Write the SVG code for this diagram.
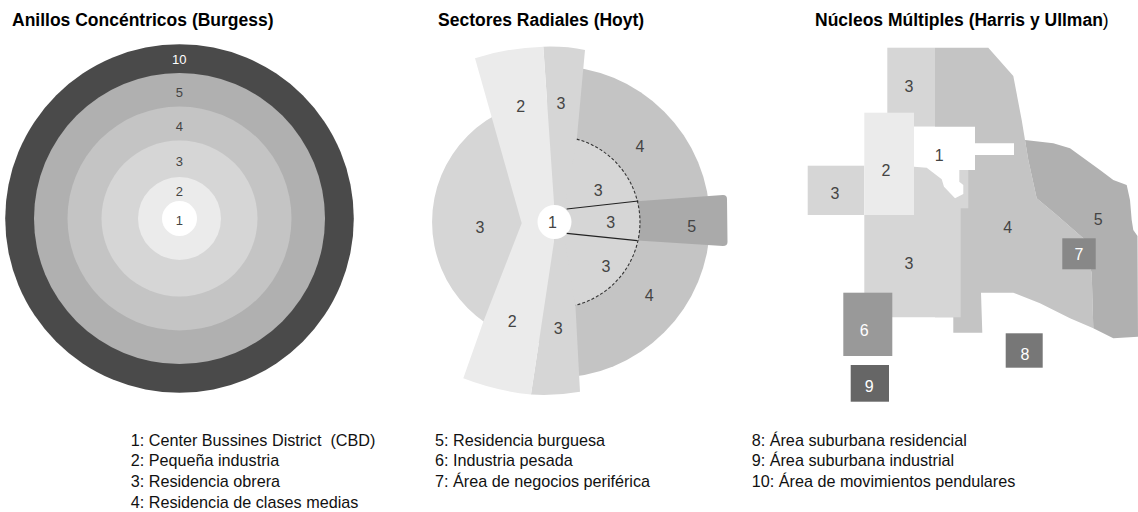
<svg xmlns="http://www.w3.org/2000/svg" width="1138" height="512" viewBox="0 0 1138 512">
<style>
.title{font-family:"Liberation Sans",Arial,sans-serif;font-weight:bold;font-size:17.5px;fill:#000}
.leg{font-family:"Liberation Sans",Arial,sans-serif;font-size:16.2px;fill:#111;white-space:pre}
.lb{font-family:"Liberation Sans",Arial,sans-serif;text-anchor:middle;fill:#444}
.b{font-size:13px}
.h{font-size:16px}
.w{fill:#fff}
.c1{fill:#fff}.c2{fill:#ebebeb}.c3{fill:#d6d6d6}.c4{fill:#c4c4c4}.c5{fill:#b0b0b0}.c10{fill:#4a4a4a}
</style>
<rect width="1138" height="512" fill="#fff"/>
<text class="title" x="12" y="26">Anillos Concéntricos (Burgess)</text>
<text class="title" x="438" y="26">Sectores Radiales (Hoyt)</text>
<text class="title" x="815" y="26">Núcleos Múltiples (Harris y Ullman<tspan font-weight="normal">)</tspan></text>

<g id="burgess">
<circle class="c10" cx="179.5" cy="218.5" r="174.3"/>
<circle class="c5" cx="179.5" cy="218.5" r="145.5"/>
<circle class="c4" cx="179.5" cy="218.5" r="112"/>
<circle class="c3" cx="179.5" cy="218.5" r="78"/>
<circle class="c2" cx="179.5" cy="218.5" r="41.5"/>
<circle class="c1" cx="179.5" cy="218.5" r="17.5"/>
<text class="lb b w" x="179.3" y="63.7">10</text>
<text class="lb b" x="179.3" y="97.4">5</text>
<text class="lb b" x="179.3" y="131.4">4</text>
<text class="lb b" x="179.3" y="166.4">3</text>
<text class="lb b" x="179.3" y="196.4">2</text>
<text class="lb b" x="179.3" y="224.7">1</text>
</g>

<g id="hoyt">
<path class="c4" d="M554 66 A156 156 0 0 1 554 378 Z"/>
<path class="c3" d="M554 100 A122 122 0 0 0 554 344 Z"/>
<path fill="#aaaaaa" d="M637 201.2 L723 195 Q727 195 727 199 L727.5 242 Q727.5 246 723 246 L637.6 240.6 Z"/>
<path class="c3" d="M554 222 L576.8 139.1 A86 86 0 0 1 575.4 305.3 Z"/>
<path class="c3" d="M543.3 46.7 Q566 46 585 50 L576.8 139.1 L562 222 L554 222 L554 203 Z"/>
<path class="c3" d="M554 222 L562 222 L575.4 305.3 L580 391.7 Q556 396 531 394.5 L554 241.7 Z"/>
<path class="c2" d="M475 58.3 Q506 48 543.3 46.7 L554 203 L554 241.7 L531 394.5 Q496 391 463.3 378.3 L483.3 321.7 L521.7 223.3 Z"/>
<path d="M576.8 139.1 A86 86 0 0 1 575.4 305.3" fill="none" stroke="#333" stroke-width="1.1" stroke-dasharray="3,2"/>
<circle class="c1" cx="554.5" cy="222" r="17"/>
<text class="lb h" x="520.7" y="112.4">2</text>
<text class="lb h" x="561" y="109">3</text>
<text class="lb h" x="640" y="152.4">4</text>
<text class="lb h" x="598.3" y="195.7">3</text>
<text class="lb h" x="610.7" y="228.4">3</text>
<text class="lb h" x="552.5" y="228.4">1</text>
<text class="lb h" x="691.7" y="232.4">5</text>
<text class="lb h" x="480" y="233.4">3</text>
<text class="lb h" x="606" y="272.4">3</text>
<text class="lb h" x="649.3" y="301.4">4</text>
<text class="lb h" x="512.3" y="327.4">2</text>
<text class="lb h" x="558.3" y="334">3</text>
</g>

<g id="harris">
<path class="c4" d="M935 47.7 L988.3 47.7 L1013.3 76 L1021.7 120 L1025 140 L1028.3 160 L1036.7 198.3 L1056.7 215 L1083.3 238.3 L1091.7 273.3 L1093.3 328.3 L1070 318.3 L1040 303.3 L1013.3 292.7 L981 292.7 L982.3 332.7 L953.3 332.7 L953.3 317.3 L935 317.3 Z"/>
<path class="c5" d="M1025 140 L1053.3 143.3 L1070 148.3 L1100 170 L1113.3 180 L1126.7 185 L1130 200 L1131.7 220 L1133.3 230 L1137.5 236 L1138 336.7 L1113.3 338.3 L1093.3 328.3 L1091.7 273.3 L1083.3 238.3 L1056.7 215 L1036.7 198.3 L1028.3 160 Z"/>
<rect class="c3" x="887.3" y="47.7" width="47.7" height="79"/>
<rect class="c3" x="807.7" y="165.7" width="56.6" height="49.3"/>
<path class="c3" d="M864.3 215 L914 215 L914 160 L968.3 160 L968.3 208.3 L960.7 208.3 L960.7 317.3 L864.3 317.3 Z"/>
<rect class="c2" x="864.3" y="112.7" width="49.7" height="102.3"/>
<path class="c1" d="M914 126.7 L975 126.7 L975 143.3 L1014 143.3 L1014 155 L975 155 L975 170 L959.3 170 L959.3 181.7 L963.3 185 L963.3 194 L955 198.3 L944 186.7 L941.7 179.3 L926.7 167.7 L914 166.7 Z"/>
<rect fill="#888888" x="1062.3" y="238.3" width="33.4" height="31"/>
<rect fill="#777777" x="1005.7" y="333.3" width="37" height="34.4"/>
<rect fill="#999999" x="843.3" y="292.7" width="49" height="63.3"/>
<rect fill="#666666" x="850.7" y="365" width="38.3" height="36.7"/>
<text class="lb h" x="909" y="92.4">3</text>
<text class="lb h" x="886" y="175.7">2</text>
<text class="lb h" x="835" y="199">3</text>
<text class="lb h" x="939.3" y="160.7">1</text>
<text class="lb h" x="1007.7" y="233">4</text>
<text class="lb h" x="1098.3" y="224.7">5</text>
<text class="lb h" x="909" y="269">3</text>
<text class="lb h w" x="864.3" y="335.7">6</text>
<text class="lb h w" x="1079" y="259.7">7</text>
<text class="lb h w" x="1025" y="359.7">8</text>
<text class="lb h w" x="869.3" y="392.4">9</text>
</g>

<g id="connectors" stroke="#222" stroke-width="1.2" fill="none">
<line x1="566.7" y1="209" x2="638.3" y2="201"/>
<line x1="566.7" y1="233.3" x2="637.3" y2="240.7"/>
</g>

<g id="legend">
<text class="leg" x="130.7" y="445.5" xml:space="preserve">1: Center Bussines District  (CBD)</text>
<text class="leg" x="130.7" y="466.3">2: Pequeña industria</text>
<text class="leg" x="130.7" y="487.1">3: Residencia obrera</text>
<text class="leg" x="130.7" y="507.9">4: Residencia de clases medias</text>
<text class="leg" x="435" y="445.5">5: Residencia burguesa</text>
<text class="leg" x="435" y="466.3">6: Industria pesada</text>
<text class="leg" x="435" y="487.1">7: Área de negocios periférica</text>
<text class="leg" x="751.7" y="445.5">8: Área suburbana residencial</text>
<text class="leg" x="751.7" y="466.3">9: Área suburbana industrial</text>
<text class="leg" x="751.7" y="487.1">10: Área de movimientos pendulares</text>
</g>
</svg>
